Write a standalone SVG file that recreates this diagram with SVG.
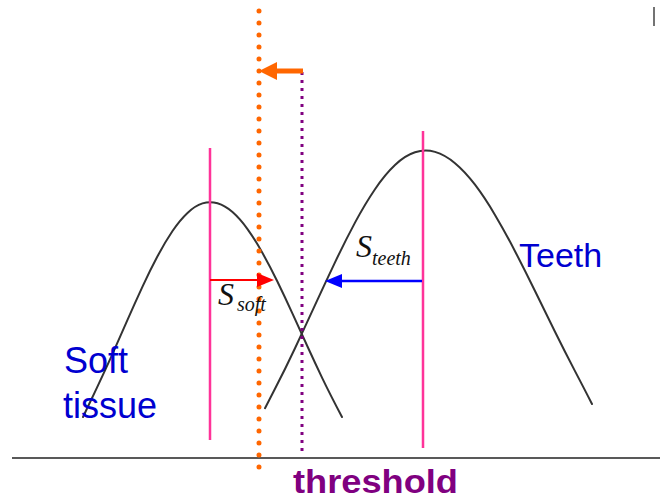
<svg xmlns="http://www.w3.org/2000/svg" width="660" height="504" viewBox="0 0 660 504">
<defs>
<style>
.curve{fill:none;stroke:#333;stroke-width:2;stroke-linejoin:round;stroke-linecap:round}
.pink{stroke:#ff3399;stroke-width:2.5}
.lbl{font-family:"Liberation Sans",Arial,sans-serif;fill:#0000d0}
.sym{font-family:"Liberation Serif","Times New Roman",serif;font-style:italic;fill:#111}
</style>
</defs>
<rect width="660" height="504" fill="#fff"/>
<g id="axis"><line x1="12" y1="458" x2="660" y2="458" stroke="#222" stroke-width="1.5"/></g>
<line x1="654" y1="7" x2="654" y2="26" stroke="#444" stroke-width="1.5"/>
<g id="soft-curve"><path class="curve" d="M83,417 L90,402.3 Q105,370.7 112.5,353.8 Q120,336.9 127.5,319.9 Q135,302.8 142.5,286.6 Q150,270.4 157.5,256.3 Q165,242.1 172.5,231 Q180,219.9 187.5,212.9 Q195,205.8 202.5,203.4 Q210,201 217.5,203.3 Q225,205.5 232.5,212.1 Q240,218.7 247.5,229.1 Q255,239.5 262.5,253 Q270,266.4 277.5,281.8 Q285,297.2 292.5,313.7 Q300,330.1 307.5,346.5 Q315,362.9 322.5,378.6 Q330,394.2 342,417"/></g>
<g id="teeth-curve"><path class="curve" d="M265,408.2 L275,388.8 Q285,369.4 295,348.2 Q305,327 315,305.2 Q325,283.4 335,262.4 Q345,241.3 355,222.6 Q365,203.9 375,189.2 Q385,174.4 395,165 Q405,155.5 415,152.3 Q425,149 435,151.9 Q445,154.8 455,163.2 Q465,171.5 475,184.7 Q485,197.9 495,214.9 Q505,231.8 515,251.2 Q525,270.5 535,291 Q545,311.4 555,331.7 Q565,351.9 575,371.1 Q585,390.2 592,404"/></g>
<g id="soft-mean"><line class="pink" x1="210" y1="148" x2="210" y2="440"/></g>
<g id="teeth-mean"><line class="pink" x1="423" y1="131" x2="423" y2="448"/></g>
<g id="threshold-old"><line x1="259" y1="11" x2="259" y2="476" stroke="#ff6600" stroke-width="5" stroke-linecap="round" stroke-dasharray="0 12"/></g>
<g id="threshold-new"><line x1="302" y1="72" x2="302" y2="455" stroke="#800080" stroke-width="3" stroke-dasharray="3 5"/></g>
<g id="connectors">
<line x1="303" y1="71" x2="274" y2="71" stroke="#ff6600" stroke-width="5"/>
<polygon points="259,71 277,62 277,80" fill="#ff6600"/>
<line x1="210" y1="280" x2="258" y2="280" stroke="#ff0000" stroke-width="2"/>
<polygon points="274,280 257,273 257,287" fill="#ff0000"/>
<line x1="422" y1="281" x2="340" y2="281" stroke="#0000ff" stroke-width="2.5"/>
<polygon points="325,281 342,274 342,288" fill="#0000ff"/>
</g>
<g id="label-ssoft"><text class="sym" x="218" y="305" font-size="32">S</text><text class="sym" x="237" y="311" font-size="20">soft</text></g>
<g id="label-steeth"><text class="sym" x="356" y="257" font-size="32">S</text><text class="sym" x="372" y="265" font-size="20">teeth</text></g>
<g id="label-soft"><text class="lbl" x="64" y="373" font-size="36">Soft</text><text class="lbl" x="63" y="418" font-size="36">tissue</text></g>
<g id="label-teeth"><text class="lbl" x="519" y="267" font-size="34">Teeth</text></g>
<g id="label-threshold"><text x="293" y="493" font-family="'Liberation Sans',Arial,sans-serif" font-weight="bold" font-size="33" fill="#800080" textLength="165" lengthAdjust="spacingAndGlyphs">threshold</text></g>
</svg>
